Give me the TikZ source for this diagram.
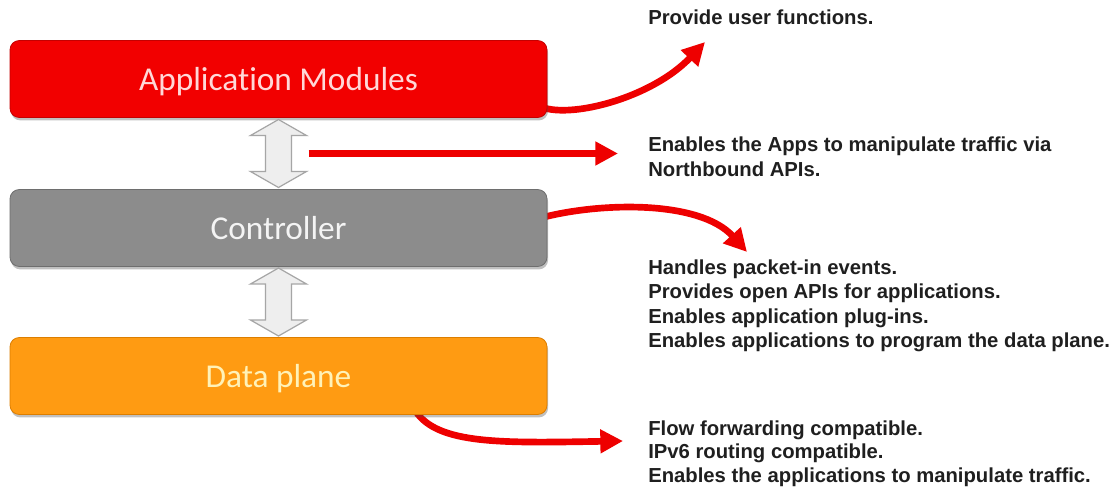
\documentclass[tikz,border=0pt]{standalone}
\usepackage{fontspec}
\setmainfont{Liberation Sans}
\newfontfamily\layerfont[Ligatures={NoCommon,NoRequired,NoContextual}]{Carlito}
\usetikzlibrary{arrows.meta,calc,shadows,backgrounds}

\definecolor{appred}{HTML}{F20000}
\definecolor{appedge}{HTML}{C40000}
\definecolor{apptext}{HTML}{FFD8D8}
\definecolor{ctrlgray}{HTML}{8C8C8C}
\definecolor{ctrledge}{HTML}{6E6E6E}
\definecolor{ctrltext}{HTML}{F4F4F4}
\definecolor{dataorange}{HTML}{FF9B12}
\definecolor{dataedge}{HTML}{DC7E00}
\definecolor{datatext}{HTML}{FFF2B8}
\definecolor{flowred}{HTML}{EE0000}
\definecolor{linkfill}{HTML}{EEEEEE}
\definecolor{linkedge}{HTML}{A6A6A6}

\tikzset{
  layer/.style={rectangle, rounded corners=7pt, line width=0.6pt,
    minimum width=402.75pt, minimum height=57.75pt, inner sep=0pt,
    text depth=0pt,
    font=\layerfont\fontsize{25}{29}\selectfont,
    drop shadow={shadow xshift=0.8pt, shadow yshift=-2.2pt, opacity=0.35, fill=black!70}},
  note/.style={anchor=base west, inner sep=0pt, text=black!88,
    font=\fontsize{15.2}{17}\selectfont\bfseries},
  flow/.style={draw=flowred, line width=5pt,
    -{Triangle[length=17pt,width=17pt]}},
  linkarrow/.style={draw=linkedge, fill=linkfill, line width=0.9pt, line join=miter},
  updown/.pic={
    \draw[linkarrow] (0,-34) -- (28,-18) -- (13,-18) -- (13,18) -- (28,18)
      -- (0,34) -- (-28,18) -- (-13,18) -- (-13,-18) -- (-28,-18) -- cycle;
  }
}

\begin{document}
\begin{tikzpicture}[x=0.75pt, y=-0.75pt]
  \begin{scope}[on background layer]
    \fill[white] (0,0) rectangle (1117,488);
  \end{scope}
  \useasboundingbox (0,0) rectangle (1117,488);

  % the three layers
  \node[layer, fill=appred, draw=appedge, text=apptext] (app) at (278.5,79) {Application Modules};
  \node[layer, fill=ctrlgray, draw=ctrledge, text=ctrltext] (ctrl) at (278.5,228) {Controller};
  \node[layer, fill=dataorange, draw=dataedge, text=datatext] (data) at (278.5,376) {Data plane};

  % interfaces between layers
  \coordinate (link1) at ($(app.south)!0.5!(ctrl.north)$);
  \coordinate (link2) at ($(ctrl.south)!0.5!(data.north)$);
  \pic at (link1) {updown};
  \pic at (link2) {updown};

  % descriptions
  \node[note] (n1) at (648,25) {Provide user functions.};
  \node[note] (n2a) at (648,152) {Enables the Apps to manipulate traffic via};
  \node[note] (n2b) at (648,177) {Northbound APIs.};
  \node[note] (n3a) at (648,275) {Handles packet-in events.};
  \node[note] (n3b) at (648,299) {Provides open APIs for applications.};
  \node[note] (n3c) at (648,323) {Enables application plug-ins.};
  \node[note] (n3d) at (648,347) {Enables applications to program the data plane.};
  \node[note] (n4a) at (648,435) {Flow forwarding compatible.};
  \node[note] (n4b) at (648,458.5) {IPv6 routing compatible.};
  \node[note] (n4c) at (648,482) {Enables the applications to manipulate traffic.};

  % pointers from the layers to their descriptions
  \begin{scope}[on background layer]
    \draw[flow] ($(app.south east)+(-12,-14)$) .. controls +(25,18) and +(-55,58) .. ($(n1.base west)+(57,17)$);
    \draw[flow] ($(ctrl.east)+(-7,-10)$) .. controls +(60,-16) and +(-47,-52) .. ($(n3a.base west)+(99,-23)$);
    \draw[flow] ($(data.south)+(137,-4)$) .. controls +(22,34) and +(-120,2) .. ($(n4a.base west)+(-25,6)$);
  \end{scope}
  \draw[flow] ($(link1)+(30,0)$) -- ($(link1 -| n2a.west)+(-30,0)$);
\end{tikzpicture}
\end{document}
